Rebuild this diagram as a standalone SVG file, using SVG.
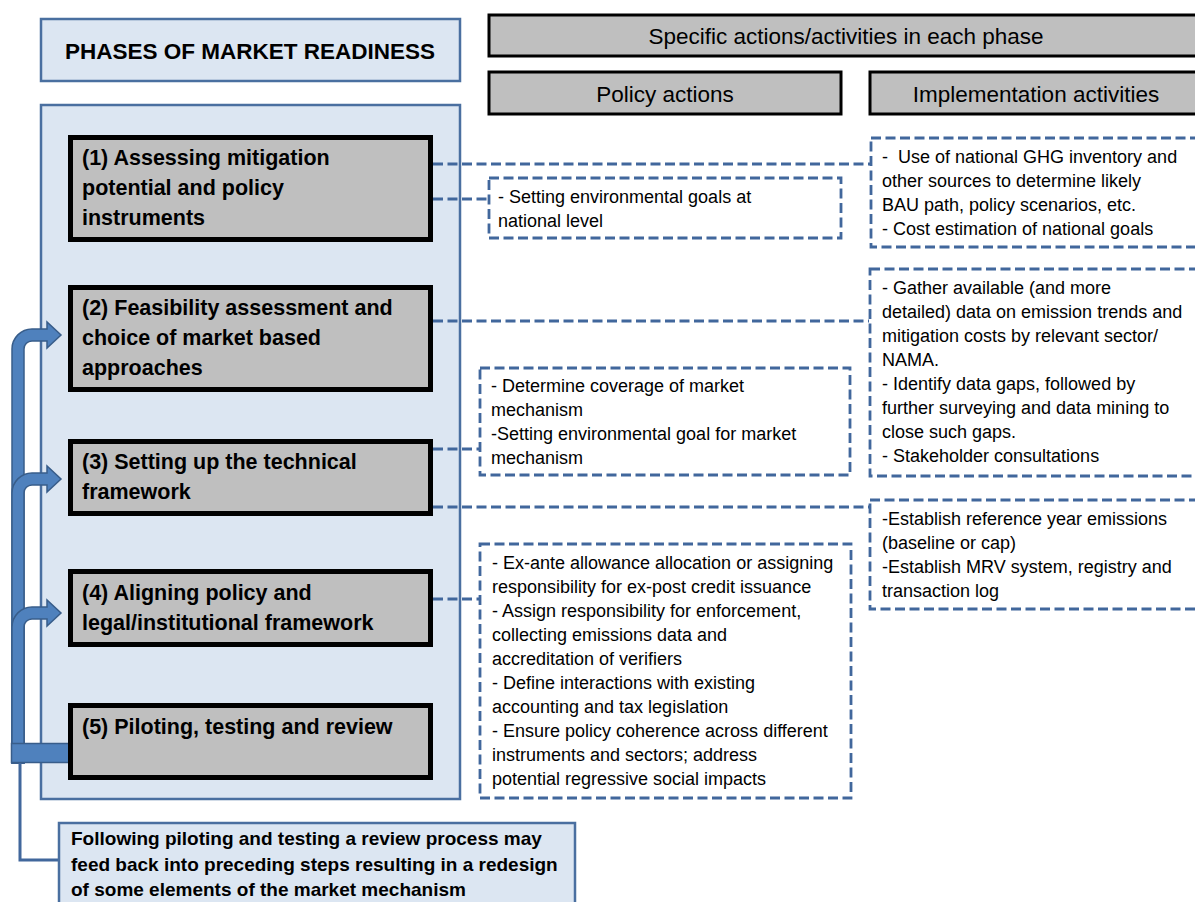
<svg xmlns="http://www.w3.org/2000/svg" width="1195" height="902" viewBox="0 0 1195 902">
<style>
.blue{fill:#dce6f2;stroke:#4a6fa0;stroke-width:2.5}
.phase{fill:#bfbfbf;stroke:#000;stroke-width:5}
.head{fill:#bfbfbf;stroke:#000;stroke-width:3}
.dbox{fill:#fff;stroke:#41679c;stroke-width:2.8;stroke-dasharray:10 4.5}
.dline{fill:none;stroke:#41679c;stroke-width:2.8;stroke-dasharray:10 4.5}
.arrow{fill:#4f81bd;stroke:#385d8a;stroke-width:1.5}
.bt{font-family:"Liberation Sans",Arial,sans-serif;font-weight:bold;font-size:21.5px;fill:#000}
.ht{font-family:"Liberation Sans",Arial,sans-serif;font-size:22.5px;fill:#000;text-anchor:middle}
.rt{font-family:"Liberation Sans",Arial,sans-serif;font-size:18px;fill:#000}
.ft{font-family:"Liberation Sans",Arial,sans-serif;font-weight:bold;font-size:19px;fill:#000}
</style>
<rect width="1195" height="902" fill="#fff"/>

<g id="title">
<rect class="blue" x="41" y="19" width="419" height="62"/>
<text class="bt" x="250" y="59" text-anchor="middle" style="font-size:22.5px">PHASES OF MARKET READINESS</text>
</g>

<g id="container">
<rect class="blue" x="41" y="105" width="419" height="694"/>
</g>

<g id="header-specific">
<rect class="head" x="489" y="15" width="720" height="41"/>
<text class="ht" x="846" y="44">Specific actions/activities in each phase</text>
</g>
<g id="header-policy">
<rect class="head" x="489" y="72" width="352" height="42"/>
<text class="ht" x="665" y="102">Policy actions</text>
</g>
<g id="header-impl">
<rect class="head" x="870" y="72" width="340" height="42"/>
<text class="ht" x="1036" y="102">Implementation activities</text>
</g>

<g id="connectors">
<path class="dline" d="M433 164H870"/>
<path class="dline" d="M433 199H488"/>
<path class="dline" d="M433 321H869"/>
<path class="dline" d="M433 449H479"/>
<path class="dline" d="M433 507H869"/>
<path class="dline" d="M433 599H479"/>
<path class="arrow" d="M12 763 L12 349 A20 20 0 0 1 32 329 L47 329 L47 322 L61 335 L47 348 L47 341 L32 341 A8 8 0 0 0 24 349 L24 763 Z"/>
<path class="arrow" d="M12 763 L12 493 A20 20 0 0 1 32 473 L47 473 L47 466 L61 479 L47 492 L47 485 L32 485 A8 8 0 0 0 24 493 L24 763 Z"/>
<path class="arrow" d="M12 763 L12 627 A20 20 0 0 1 32 607 L47 607 L47 600 L61 613 L47 626 L47 619 L32 619 A8 8 0 0 0 24 627 L24 763 Z"/>
<rect class="arrow" x="11.5" y="743.5" width="58" height="19"/>
<path d="M20 763V860H59" fill="none" stroke="#41679c" stroke-width="3"/>
</g>

<g id="phase1">
<rect class="phase" x="70.5" y="137.5" width="360" height="102"/>
<text class="bt"><tspan x="82" y="165">(1) Assessing mitigation</tspan><tspan x="82" y="195">potential and policy</tspan><tspan x="82" y="225">instruments</tspan></text>
</g>
<g id="phase2">
<rect class="phase" x="70.5" y="287.5" width="360" height="102"/>
<text class="bt"><tspan x="82" y="315">(2) Feasibility assessment and</tspan><tspan x="82" y="345">choice of market based</tspan><tspan x="82" y="375">approaches</tspan></text>
</g>
<g id="phase3">
<rect class="phase" x="70.5" y="441.5" width="360" height="72"/>
<text class="bt"><tspan x="82" y="469">(3) Setting up the technical</tspan><tspan x="82" y="499">framework</tspan></text>
</g>
<g id="phase4">
<rect class="phase" x="70.5" y="571.5" width="360" height="73"/>
<text class="bt"><tspan x="82" y="600">(4) Aligning policy and</tspan><tspan x="82" y="630">legal/institutional framework</tspan></text>
</g>
<g id="phase5">
<rect class="phase" x="70.5" y="705.5" width="360" height="72"/>
<text class="bt"><tspan x="82" y="734">(5) Piloting, testing and review</tspan></text>
</g>

<g id="policy1">
<rect class="dbox" x="489" y="178" width="352" height="60"/>
<text class="rt"><tspan x="498" y="203">- Setting environmental goals at</tspan><tspan x="498" y="227">national level</tspan></text>
</g>
<g id="policy3">
<rect class="dbox" x="480" y="368" width="370" height="107"/>
<text class="rt"><tspan x="491" y="392">- Determine coverage of market</tspan><tspan x="491" y="416">mechanism</tspan><tspan x="491" y="440">-Setting environmental goal for market</tspan><tspan x="491" y="464">mechanism</tspan></text>
</g>
<g id="policy4">
<rect class="dbox" x="480" y="544" width="371" height="254"/>
<text class="rt"><tspan x="492" y="569">- Ex-ante allowance allocation or assigning</tspan><tspan x="492" y="593">responsibility for ex-post credit issuance</tspan><tspan x="492" y="617">- Assign responsibility for enforcement,</tspan><tspan x="492" y="641">collecting emissions data and</tspan><tspan x="492" y="665">accreditation of verifiers</tspan><tspan x="492" y="689">- Define interactions with existing</tspan><tspan x="492" y="713">accounting and tax legislation</tspan><tspan x="492" y="737">- Ensure policy coherence across different</tspan><tspan x="492" y="761">instruments and sectors; address</tspan><tspan x="492" y="785">potential regressive social impacts</tspan></text>
</g>

<g id="impl1">
<rect class="dbox" x="871" y="138" width="340" height="109"/>
<text class="rt" xml:space="preserve"><tspan x="882" y="163">-  Use of national GHG inventory and</tspan><tspan x="882" y="187">other sources to determine likely</tspan><tspan x="882" y="211">BAU path, policy scenarios, etc.</tspan><tspan x="882" y="235">- Cost estimation of national goals</tspan></text>
</g>
<g id="impl2">
<rect class="dbox" x="870" y="269" width="340" height="207"/>
<text class="rt"><tspan x="882" y="294">- Gather available (and more</tspan><tspan x="882" y="318">detailed) data on emission trends and</tspan><tspan x="882" y="342">mitigation costs by relevant sector/</tspan><tspan x="882" y="366">NAMA.</tspan><tspan x="882" y="390">- Identify data gaps, followed by</tspan><tspan x="882" y="414">further surveying and data mining to</tspan><tspan x="882" y="438">close such gaps.</tspan><tspan x="882" y="462">- Stakeholder consultations</tspan></text>
</g>
<g id="impl3">
<rect class="dbox" x="870" y="500" width="340" height="109"/>
<text class="rt"><tspan x="882" y="525">-Establish reference year emissions</tspan><tspan x="882" y="549">(baseline or cap)</tspan><tspan x="882" y="573">-Establish MRV system, registry and</tspan><tspan x="882" y="597">transaction log</tspan></text>
</g>

<g id="feedback-note">
<rect class="blue" x="59" y="823" width="516" height="100"/>
<text class="ft"><tspan x="71" y="845">Following piloting and testing a review process may</tspan><tspan x="71" y="871">feed back into preceding steps resulting in a redesign</tspan><tspan x="71" y="896">of some elements of the market mechanism</tspan></text>
</g>
</svg>
